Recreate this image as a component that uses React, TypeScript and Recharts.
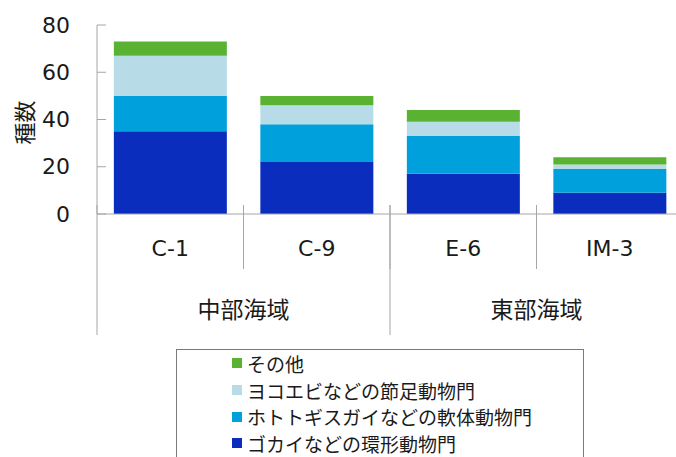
import React from 'react';
import { BarChart, Bar, XAxis, YAxis, Legend } from 'recharts';

const categories = ['C-1', 'C-9', 'E-6', 'IM-3'];
const regions = ['中部海域', '中部海域', '東部海域', '東部海域'];
const annelida = [35, 22, 17, 9];
const mollusca = [15, 16, 16, 10];
const arthropoda = [17, 8, 6, 2];
const others = [6, 4, 5, 3];
const yTicks = [0, 20, 40, 60, 80];

const seriesNames = {
  annelida: 'ゴカイなどの環形動物門',
  mollusca: 'ホトトギスガイなどの軟体動物門',
  arthropoda: 'ヨコエビなどの節足動物門',
  others: 'その他',
};
const seriesColors = {
  annelida: '#0A2DBE',
  mollusca: '#00A0DC',
  arthropoda: '#B7DCE8',
  others: '#5AB232',
};
const seriesKeys = ['annelida', 'mollusca', 'arthropoda', 'others'] as const;
const legendOrder = [seriesNames.others, seriesNames.arthropoda, seriesNames.mollusca, seriesNames.annelida];

const data = categories.map((name, i) => ({
  name,
  region: regions[i],
  annelida: annelida[i],
  mollusca: mollusca[i],
  arthropoda: arthropoda[i],
  others: others[i],
}));

const FONT = "'DejaVu Sans', 'Noto Sans CJK JP', sans-serif";
const JFONT = "'Noto Sans CJK JP', sans-serif";
const AXIS = '#A6A6A6';
const TEXT = '#1a1a1a';
const CHART_W = 690;
const CHART_H = 457;
const Y_W = 97;
const M_RIGHT = 7;
const CAT_H = 55;
const REG_H = 66;
const LEGEND_H = 122;
const TICK_MARGIN = 27;
const BAND = (CHART_W - Y_W - M_RIGHT) / categories.length;

const YTick = (props: any) => {
  const { x, y, payload } = props;
  return (
    <g>
      <line x1={x + TICK_MARGIN} x2={x + TICK_MARGIN + 9} y1={y} y2={y} stroke={AXIS} />
      <text x={x} y={y} textAnchor="end" dominantBaseline="central" fontSize={22} fill={TEXT} fontFamily={FONT}>
        {payload.value}
      </text>
    </g>
  );
};

const CatTick = (props: any) => {
  const { x, y, payload, index } = props;
  const half = typeof payload.offset === 'number' && payload.offset > 0 ? payload.offset : BAND / 2;
  return (
    <g>
      {index > 0 && <line x1={x - half} x2={x - half} y1={y - 9} y2={y + CAT_H} stroke={AXIS} />}
      <text x={x} y={y + 34} textAnchor="middle" dominantBaseline="central" fontSize={22} fill={TEXT} fontFamily={FONT}>
        {payload.value}
      </text>
    </g>
  );
};

const RegionTick = (props: any) => {
  const { x, y, payload } = props;
  const half = typeof payload.offset === 'number' && payload.offset > 0 ? payload.offset : BAND;
  return (
    <g>
      <line x1={x - half} x2={x - half} y1={y - CAT_H - 9} y2={y + REG_H} stroke={AXIS} />
      <text x={x} y={y + 39} textAnchor="middle" dominantBaseline="central" fontSize={23} fill={TEXT} fontFamily={JFONT}>
        {payload.value}
      </text>
    </g>
  );
};

const LegendContent = (props: any) => {
  const items = [...(props.payload || [])].sort(
    (a: any, b: any) => legendOrder.indexOf(a.value) - legendOrder.indexOf(b.value)
  );
  return (
    <div style={{ height: LEGEND_H, position: 'relative' }}>
      <div
        style={{
          position: 'absolute',
          left: 176,
          top: 14,
          width: 408,
          height: 115,
          border: '1px solid #7a7a7a',
          boxSizing: 'border-box',
          background: '#fff',
        }}
      >
        {items.map((it: any) => (
          <div
            key={it.value}
            style={{
              display: 'flex',
              alignItems: 'center',
              height: 26.7,
              paddingLeft: 55,
              fontFamily: JFONT,
              fontSize: 19,
              color: TEXT,
              whiteSpace: 'nowrap',
            }}
          >
            <span style={{ display: 'inline-block', width: 10, height: 10, background: it.color, marginRight: 5 }} />
            <span>{it.value}</span>
          </div>
        ))}
      </div>
    </div>
  );
};

const YLabel = (props: any) => {
  const vb = props.viewBox || { x: 0, y: 25, width: Y_W, height: 189 };
  const cx = vb.x + 23;
  const cy = vb.y + vb.height / 2 + 3;
  return (
    <text
      x={cx}
      y={cy}
      transform={`rotate(-90 ${cx} ${cy})`}
      textAnchor="middle"
      dominantBaseline="central"
      fontSize={22}
      fill={TEXT}
      fontFamily={JFONT}
    >
      種数
    </text>
  );
};

export default function App() {
  return (
    <div style={{ position: 'absolute', left: 0, top: 0, width: 676, height: 457, overflow: 'hidden', background: '#fff' }}>
      <BarChart
        width={CHART_W}
        height={CHART_H}
        data={data}
        margin={{ top: 25, right: M_RIGHT, bottom: 0, left: 0 }}
        barCategoryGap="11.5%"
      >
        <XAxis
          xAxisId="cat"
          dataKey="name"
          height={CAT_H}
          axisLine={{ stroke: AXIS }}
          tickLine={false}
          tickSize={0}
          tickMargin={0}
          interval={0}
          tick={<CatTick />}
        />
        <XAxis
          xAxisId="region"
          dataKey="region"
          allowDuplicatedCategory={false}
          height={REG_H}
          axisLine={false}
          tickLine={false}
          tickSize={0}
          tickMargin={0}
          interval={0}
          tick={<RegionTick />}
        />
        <YAxis
          width={Y_W}
          domain={[0, 80]}
          ticks={yTicks}
          axisLine={{ stroke: AXIS }}
          tickLine={false}
          tickSize={0}
          tickMargin={TICK_MARGIN}
          tick={<YTick />}
          label={{ content: <YLabel /> }}
        />
        <Legend
          verticalAlign="bottom"
          content={<LegendContent />}
          wrapperStyle={{ left: 0, width: CHART_W, height: LEGEND_H, bottom: 0 }}
        />
        {seriesKeys.map((k) => (
          <Bar
            key={k}
            xAxisId="cat"
            dataKey={k}
            stackId="a"
            name={seriesNames[k]}
            fill={seriesColors[k]}
            isAnimationActive={false}
          />
        ))}
      </BarChart>
    </div>
  );
}
